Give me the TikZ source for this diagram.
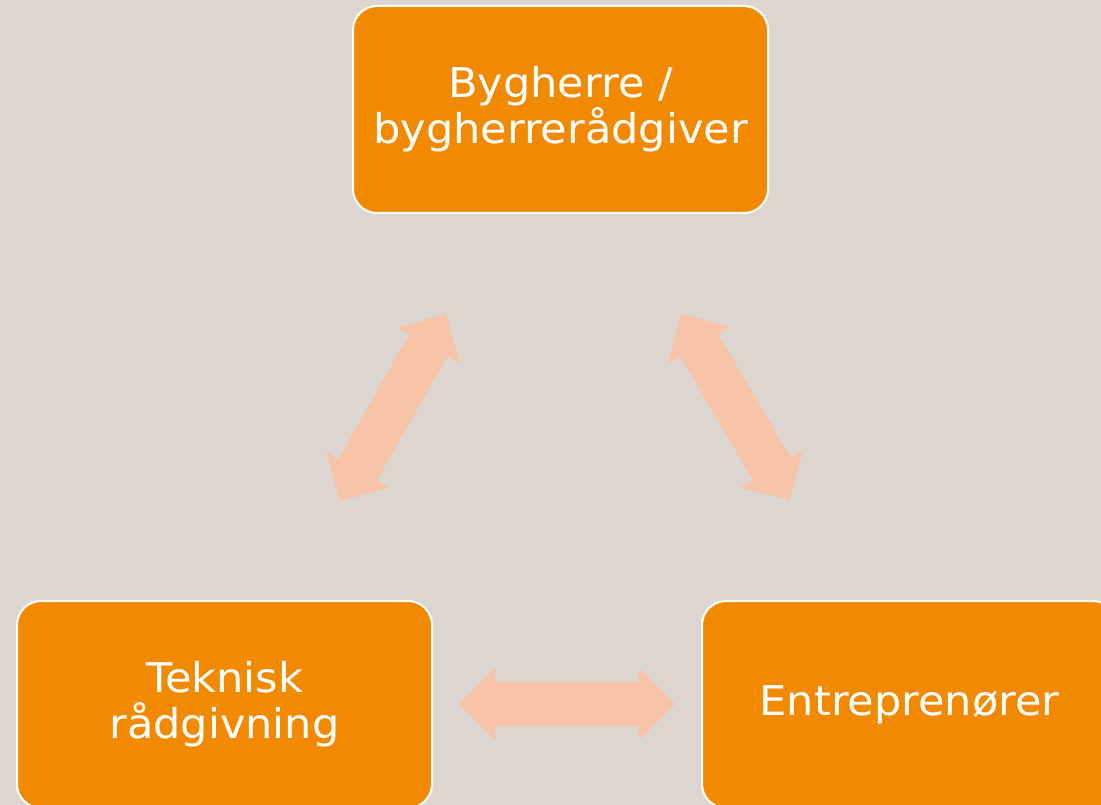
\documentclass[tikz,border=0pt]{standalone}
\usepackage{fontspec}
\setmainfont[FakeStretch=1.05]{DejaVu Sans}
\usetikzlibrary{arrows.meta}
\definecolor{bgc}{HTML}{DCD5D0}
\definecolor{boxc}{HTML}{F18A00}
\definecolor{peach}{HTML}{F7C4A8}
\tikzset{
  rolebox/.style={draw=white, line width=2pt, fill=boxc, rounded corners=24pt,
    minimum width=415pt, minimum height=207pt, text=white, align=center,
    inner sep=0pt, font=\fontsize{41}{46}\selectfont},
  link/.style={draw=peach, line width=44pt,
    {Triangle[length=36pt,width=72pt,line width=0pt]}-{Triangle[length=36pt,width=72pt,line width=0pt]}}
}
\begin{document}
\begin{tikzpicture}[x=1pt,y=-1pt]
\useasboundingbox (0,0) rectangle (1101,805);
\clip (0,0) rectangle (1101,805);
\fill[bgc] (0,0) rectangle (1101,805);
\node[rolebox] (top) at (560.5,109.5) {\raisebox{-2pt}{Bygherre /}\\\raisebox{-2pt}{bygherrerådgiver}};
\node[rolebox] (left) at (224.5,704.5) {\raisebox{-2pt}{Teknisk}\\\raisebox{-2pt}{rådgivning}};
\node[rolebox] (right) at (909.5,704.5) {\raisebox{-2pt}{Entreprenører}};
\coordinate (la1) at (446,314);
\coordinate (la2) at (340,501);
\coordinate (ra1) at (681,314);
\coordinate (ra2) at (790,500);
\coordinate (ha1) at (459,704);
\coordinate (ha2) at (675,704);
\draw[link] (la1) -- (la2);
\draw[link] (ra1) -- (ra2);
\draw[link] (ha1) -- (ha2);
\end{tikzpicture}
\end{document}
